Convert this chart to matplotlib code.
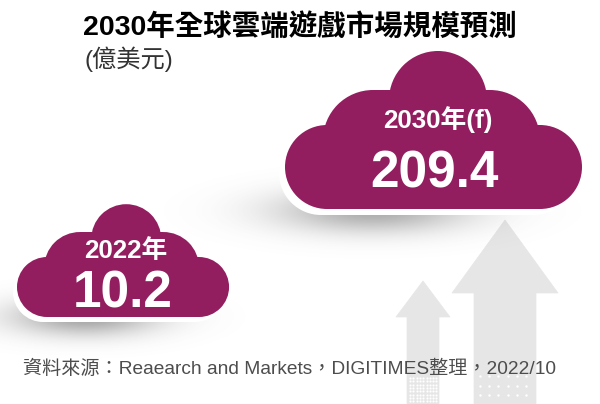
import numpy as np
import matplotlib
matplotlib.use("Agg")
import matplotlib.pyplot as plt
from matplotlib.patches import Circle, Rectangle, Polygon

# chart values
years = ["2022年", "2030年(f)"]
values = [10.2, 209.4]
title = "2030年全球雲端遊戲市場規模預測"
unit = "(億美元)"
source = "資料來源：Reaearch and Markets，DIGITIMES整理，2022/10"

PURPLE = "#931e5f"
GREY = "#e6e6e6"
LATIN_CJK = ["Liberation Sans", "Noto Sans CJK TC"]

fig = plt.figure(figsize=(6, 4.04), dpi=100)
ax = fig.add_axes([0, 0, 1, 1])
ax.set_xlim(0, 600)
ax.set_ylim(404, 0)
ax.axis("off")


def draw_cloud(x0, y1, s, color, z):
    # x0 = left edge, y1 = bottom edge, s = scale (1 = the big cloud)
    lobes = [(42, -42, 42), (255, -42, 42), (88, -69, 50), (205, -69, 50), (153, -109, 49)]
    for cx, cy, r in lobes:
        ax.add_patch(Circle((x0 + cx * s, y1 + cy * s), r * s, fc=color, ec="none", zorder=z))
    ax.add_patch(Rectangle((x0 + 42 * s, y1 - 84 * s), 213 * s, 84 * s, fc=color, ec="none", zorder=z))
    ax.add_patch(Rectangle((x0 + 88 * s, y1 - 119 * s), 117 * s, 40 * s, fc=color, ec="none", zorder=z))


def draw_shadow(cx, cy, sx, sy, a):
    xx, yy = np.meshgrid(np.arange(600), np.arange(404))
    al = a * np.exp(-((xx - cx) / sx) ** 2 - ((yy - cy) / sy) ** 2)
    img = np.zeros((404, 600, 4))
    img[..., :3] = 0.35
    img[..., 3] = al
    ax.imshow(img, extent=(0, 600, 404, 0), zorder=2, aspect="auto", interpolation="bilinear")


def draw_arrow(tip, shoulder, half_w, half_s):
    pts = [(tip[0], tip[1]), (tip[0] + half_w, shoulder), (tip[0] + half_s, shoulder),
           (tip[0] + half_s, 404), (tip[0] - half_s, 404), (tip[0] - half_s, shoulder),
           (tip[0] - half_w, shoulder)]
    ax.add_patch(Polygon(pts, closed=True, fc=GREY, ec=GREY, lw=0.5, joinstyle="round", zorder=1))


# arrows behind everything
draw_arrow((505, 220), 293, 53, 31)
draw_arrow((423, 281), 317, 27, 16)

# white dots at the foot of the arrows
gx, gy = np.meshgrid(np.arange(480, 534, 9.2), np.arange(376, 404, 9.5))
ax.scatter(gx, gy, s=3, c="white", lw=0, zorder=1.5)
gx, gy = np.meshgrid(np.arange(410, 439, 3.3), np.arange(378, 404, 3.3))
ax.scatter(gx, gy, s=2.5, c="white", lw=0, zorder=1.5)

# soft shadows
draw_shadow(372, 210, 95, 22, 0.5)
draw_shadow(85, 316, 72, 19, 0.55)

# clouds: white halo then colour
draw_cloud(279, 215, 1.0, "white", 3)
draw_cloud(285, 209, 1.0, PURPLE, 4)
draw_cloud(13, 322, 0.714, "white", 3)
draw_cloud(17, 317, 0.714, PURPLE, 4)

# cloud labels
ax.text(438, 128, years[1], color="white", fontsize=18.6, fontweight="bold",
        family=LATIN_CJK, ha="center", va="baseline", zorder=5)
ax.text(434.5, 187, f"{values[1]:.1f}", color="white", fontsize=37, fontweight="bold",
        family=LATIN_CJK, ha="center", va="baseline", zorder=5)
ax.text(125.5, 258, years[0], color="white", fontsize=18.6, fontweight="bold",
        family=LATIN_CJK, ha="center", va="baseline", zorder=5)
ax.text(123, 307, f"{values[0]:.1f}", color="white", fontsize=37, fontweight="bold",
        family=LATIN_CJK, ha="center", va="baseline", zorder=5)

# heading and source
ax.text(83, 35, title, color="black", fontsize=20.5, fontweight="bold",
        family=LATIN_CJK, ha="left", va="baseline", zorder=5)
ax.text(85, 67, unit, color="#333333", fontsize=17.5, fontweight="light",
        family=LATIN_CJK, ha="left", va="baseline", zorder=5)
ax.text(23, 374, source, color="#4d4d4d", fontsize=13.75, fontweight="light",
        family=LATIN_CJK, ha="left", va="baseline", zorder=5)

fig.savefig("out.png", dpi=100)
